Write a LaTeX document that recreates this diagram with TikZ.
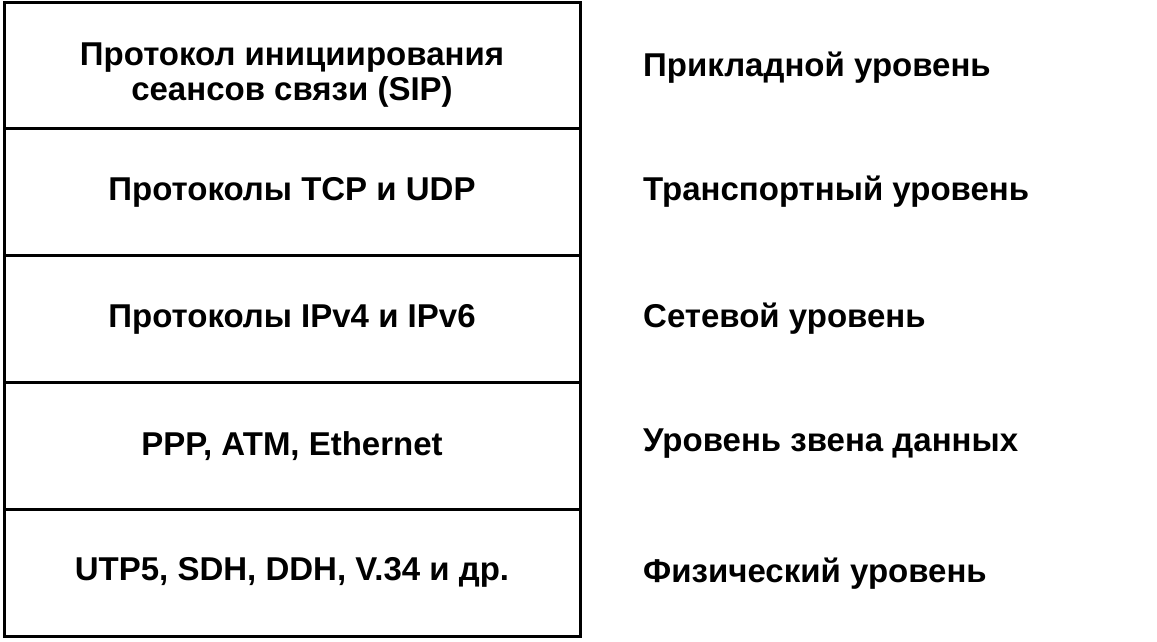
\documentclass[tikz,border=0pt]{standalone}
\usepackage{fontspec}
\setmainfont{Liberation Sans}
\begin{document}
\begin{tikzpicture}[x=1pt,y=-1pt,
		layer/.style={draw,line width=3pt,minimum width=576pt,minimum height=126.8pt,align=center,inner sep=0pt},
		lname/.style={anchor=west,inner sep=0pt}]
	\useasboundingbox (0,0) rectangle (1157,641);
	\begin{scope}[font=\bfseries\fontsize{33}{35}\selectfont]
		\node [layer] (sip) at (292,65.4) {\rule{0pt}{42pt}Протокол инициирования\\сеансов связи (SIP)};
		\node [layer] (tcp) at (292,192.2) {Протоколы TCP и UDP};
		\node [layer] (ip) at (292,319) {Протоколы IPv4 и IPv6};
		\node [layer] (eth) at (292,445.8) {PPP, ATM, Ethernet};
		\node [layer] (phy) at (292,572.6) {UTP5, SDH, DDH, V.34 и др.};
		\node [lname] (app) at (643,68) {Прикладной уровень};
		\node [lname] (trn) at (643,192) {Транспортный уровень};
		\node [lname] (net) at (643,319) {Сетевой уровень};
		\node [lname] (lnk) at (643,444) {Уровень звена данных};
		\node [lname] (phl) at (643,574) {Физический уровень};
	\end{scope}
\end{tikzpicture}
\end{document}
